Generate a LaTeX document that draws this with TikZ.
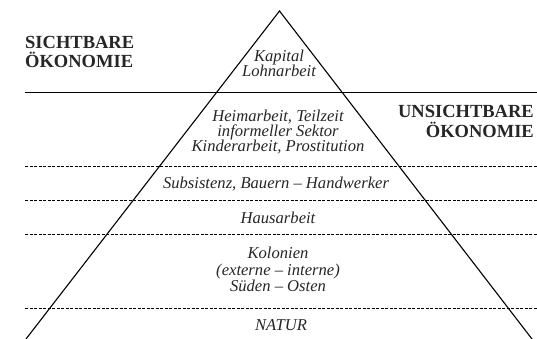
\documentclass[tikz,border=0pt]{standalone}
\usepackage{fontspec}
\setmainfont{Liberation Serif}
\begin{document}
\begin{tikzpicture}[x=1pt,y=-1pt,
  head/.style={inner sep=0pt,font=\bfseries\fontsize{18.5}{19}\selectfont,text=black!85},
  lab/.style={inner sep=0pt,anchor=base,font=\itshape\fontsize{16.6}{15}\selectfont,text=black!85},
  sep/.style={line width=0.8pt,dash pattern=on 3pt off 1.5pt},
  tri/.style={line width=1.1pt}]
\useasboundingbox (0,0) rectangle (537,339);
% pyramid
\coordinate (apex) at (279.5,11);
\coordinate (bl) at (26,339);
\coordinate (br) at (532,339);
\draw[tri] (bl) -- (apex) -- (br);
% separators
\coordinate (s0l) at (25,92.5);   \coordinate (s0r) at (537,92.5);
\coordinate (s1l) at (25,166.5);  \coordinate (s1r) at (537,166.5);
\coordinate (s2l) at (25,200.5);  \coordinate (s2r) at (537,200.5);
\coordinate (s3l) at (25,234);    \coordinate (s3r) at (537,234);
\coordinate (s4l) at (25,308.5);  \coordinate (s4r) at (537,308.5);
\draw[line width=1.1pt] (s0l) -- (s0r);
\draw[sep] (s1l) -- (s1r);
\draw[sep] (s2l) -- (s2r);
\draw[sep] (s3l) -- (s3r);
\draw[sep] (s4l) -- (s4r);
% headings
\node[head,anchor=base west] (sa) at (25,48.5) {SICHTBARE};
\node[head,anchor=base west] (sb) at (25,68) {ÖKONOMIE};
\node[head,anchor=base east] (ua) at (534,118) {UNSICHTBARE};
\node[head,anchor=base east] (ub) at (534,138) {ÖKONOMIE};
% labels
\node[lab] (k1) at (279,62) {Kapital};
\node[lab] (k2) at (279,77) {Lohnarbeit};
\node[lab] (h1) at (278,121.5) {Heimarbeit, Teilzeit};
\node[lab] (h2) at (278,136.5) {informeller Sektor};
\node[lab] (h3) at (278,152) {Kinderarbeit, Prostitution};
\node[lab] (sub) at (276,188) {Subsistenz, Bauern – Handwerker};
\node[lab] (haus) at (278,223) {Hausarbeit};
\node[lab] (ko1) at (278,258) {Kolonien};
\node[lab] (ko2) at (278,275) {(externe – interne)};
\node[lab] (ko3) at (278,291) {Süden – Osten};
\node[lab] (nat) at (281,330.5) {NATUR};
\end{tikzpicture}
\end{document}
